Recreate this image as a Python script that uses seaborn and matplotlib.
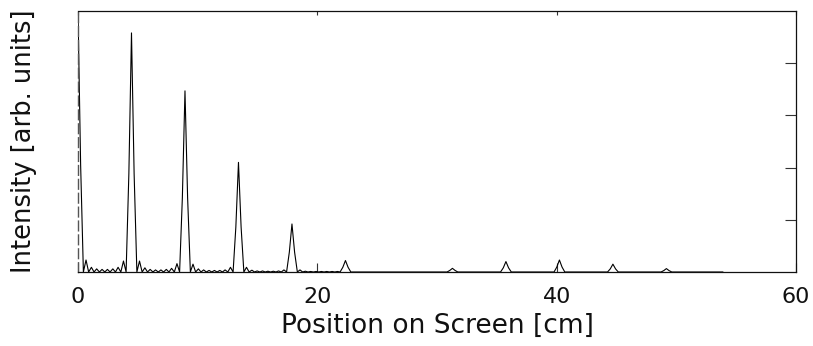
import numpy as np
import pandas as pd
import matplotlib
matplotlib.use("Agg")
import matplotlib.pyplot as plt
import seaborn as sns

# ---- data (position [cm], intensity [arb. units]) ----
position = [
    0.00, 0.22, 0.45, 0.67, 0.89, 1.12, 1.34, 1.56, 1.79, 2.01, 2.24, 2.46, 2.68, 2.91, 3.13, 3.35, 3.58, 3.80, 4.02, 4.25, 4.47,
    4.69, 4.92, 5.14, 5.36, 5.59, 5.81, 6.03, 6.26, 6.48, 6.71, 6.93, 7.15, 7.38, 7.60, 7.82, 8.05, 8.27, 8.49, 8.72, 8.94,
    9.16, 9.39, 9.61, 9.83, 10.06, 10.28, 10.50, 10.73, 10.95, 11.18, 11.40, 11.62, 11.85, 12.07, 12.29, 12.52, 12.74, 12.96, 13.19, 13.41,
    13.63, 13.86, 14.08, 14.30, 14.53, 14.75, 14.97, 15.20, 15.42, 15.65, 15.87, 16.09, 16.32, 16.54, 16.76, 16.99, 17.21, 17.43, 17.66, 17.88,
    18.10, 18.33, 18.55, 18.77, 19.00, 19.22, 19.44, 19.67, 19.89, 20.12, 20.34, 20.56, 20.79, 21.01, 21.23, 21.46, 21.68, 21.90, 22.13, 22.35,
    22.57, 22.80, 30.84, 31.07, 31.29, 31.51, 31.74,
    35.31, 35.54, 35.76, 35.98, 36.21,
    39.78, 40.01, 40.23, 40.45, 40.68,
    44.25, 44.48, 44.70, 44.92, 45.15,
    48.72, 48.95, 49.17, 49.39, 49.62, 53.90,
]
intensity = [
    5.00, 2.05, 0.00, 0.23, 0.00, 0.09, 0.00, 0.06, 0.00, 0.05, 0.00, 0.05, 0.00, 0.06, 0.00, 0.09, 0.00, 0.21, 0.00, 1.88, 4.58,
    1.88, 0.00, 0.21, 0.00, 0.08, 0.00, 0.05, 0.00, 0.04, 0.00, 0.04, 0.00, 0.05, 0.00, 0.07, 0.00, 0.16, 0.00, 1.42, 3.47,
    1.42, 0.00, 0.15, 0.00, 0.06, 0.00, 0.04, 0.00, 0.03, 0.00, 0.03, 0.00, 0.03, 0.00, 0.04, 0.00, 0.09, 0.00, 0.86, 2.10,
    0.86, 0.00, 0.09, 0.00, 0.035, 0.00, 0.02, 0.00, 0.02, 0.00, 0.015, 0.00, 0.015, 0.00, 0.02, 0.00, 0.04, 0.00, 0.38, 0.92,
    0.38, 0.00, 0.04, 0.00, 0.015, 0.00, 0.01, 0.00, 0.01, 0.00, 0.01, 0.00, 0.01, 0.00, 0.01, 0.00, 0.01, 0.00, 0.09, 0.22,
    0.09, 0.00, 0.00, 0.03, 0.07, 0.03, 0.00,
    0.00, 0.08, 0.20, 0.08, 0.00,
    0.00, 0.094, 0.23, 0.094, 0.00,
    0.00, 0.06, 0.15, 0.06, 0.00,
    0.00, 0.027, 0.065, 0.027, 0.00, 0.00,
]
x_ticks = [0, 20, 40, 60]
x_ticklabels = ["0", "20", "40", "60"]
y_ticks = [1, 2, 3, 4]

df = pd.DataFrame({"position": position, "intensity": intensity})

sns.set_style("white")
plt.rcParams["font.family"] = ["DejaVu Sans"]
plt.rcParams["text.color"] = "#111111"
plt.rcParams["axes.labelcolor"] = "#111111"
plt.rcParams["xtick.color"] = "#111111"
plt.rcParams["ytick.color"] = "#111111"

fig = plt.figure(figsize=(8.13, 3.46), dpi=100)
ax = fig.add_axes([78 / 813, 1 - 272 / 346, (796 - 78) / 813, (272 - 11) / 346])

sns.lineplot(data=df, x="position", y="intensity", ax=ax, color="black",
             linewidth=0.8, sort=False, estimator=None)

ax.set_xlim(0, 60)
ax.set_ylim(0, 5)

for side in ["top", "right", "bottom"]:
    ax.spines[side].set_color("#111111")
    ax.spines[side].set_linewidth(0.9)
ax.spines["left"].set_color("#555555")
ax.spines["left"].set_linewidth(1.0)
ax.spines["left"].set_linestyle((0, (7, 3)))

ax.set_xticks(x_ticks)
ax.set_xticklabels(x_ticklabels)
ax.tick_params(axis="x", direction="in", length=6.5, width=0.8, color="#333333",
               pad=11, labelsize=16, bottom=True, top=False)
ax.set_yticks(y_ticks)
ax.tick_params(axis="y", direction="in", length=8, width=0.8, color="#333333",
               left=False, right=True, labelleft=False, labelright=False)

sec = ax.secondary_xaxis("top")
sec.set_xticks(x_ticks)
sec.tick_params(direction="in", length=3, width=0.8, color="#333333", labeltop=False)
sec.spines["top"].set_visible(False)

ax.set_xlabel("Position on Screen [cm]", fontsize=19)
ax.set_ylabel("Intensity [arb. units]", fontsize=18.5)
ax.xaxis.set_label_coords(0.5, -0.155)
ax.yaxis.set_label_coords(-0.057, 0.5)

fig.savefig("out.png", dpi=100)
